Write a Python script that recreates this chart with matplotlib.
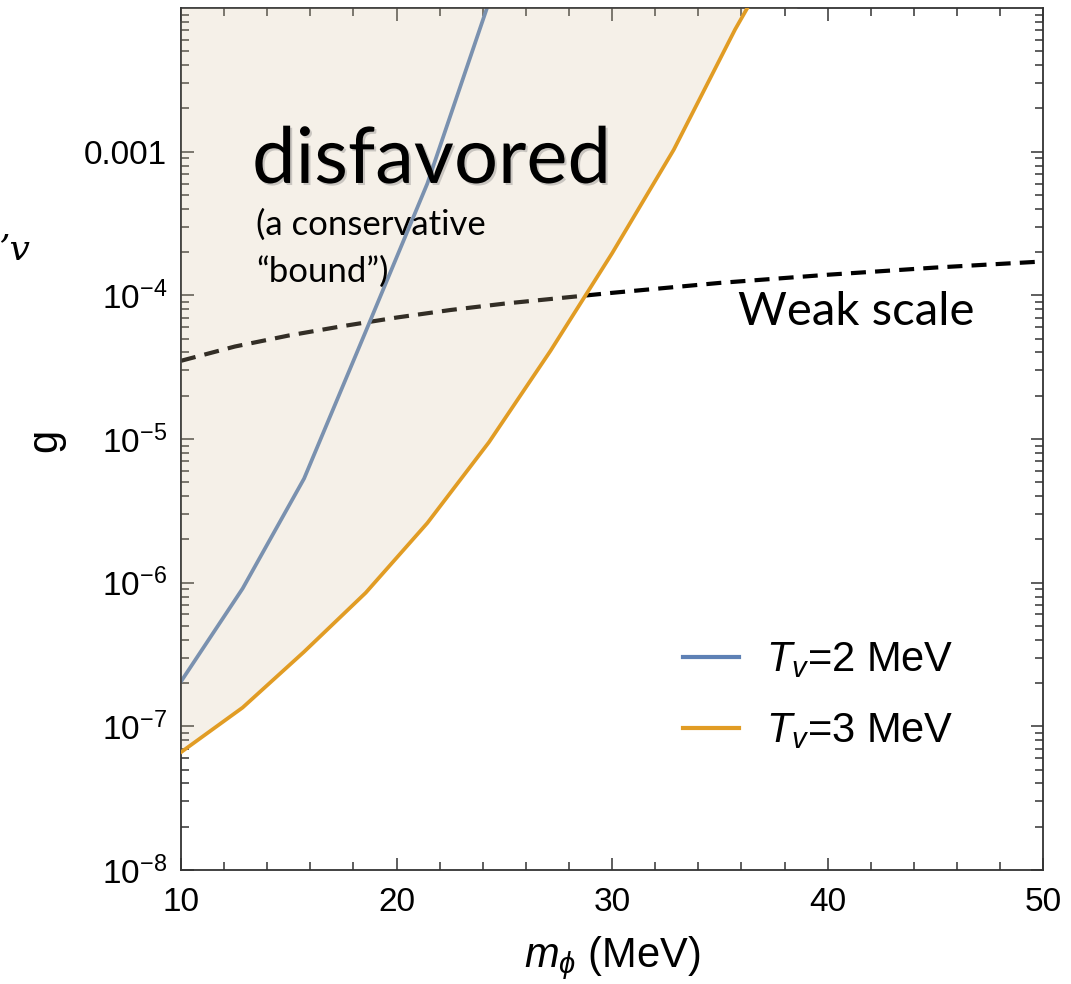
import numpy as np
import matplotlib
matplotlib.use("Agg")
import matplotlib.pyplot as plt
import matplotlib.patheffects as pe
from matplotlib.ticker import FixedLocator, FixedFormatter, NullFormatter, LogLocator

plt.rcParams['font.family'] = ['Liberation Sans', 'DejaVu Sans']
plt.rcParams['mathtext.fontset'] = 'custom'
plt.rcParams['mathtext.rm'] = 'Liberation Sans'
plt.rcParams['mathtext.it'] = 'Liberation Sans:italic'
plt.rcParams['mathtext.fallback'] = 'stix'

# ---- data ----
m_phi = [10.0, 12.86, 15.71, 18.57, 21.43, 24.29, 27.14, 30.0, 32.86, 35.71, 38.57]
g_T2 = [2.05e-7, 9.1e-7, 5.3e-6, 5.6e-5, 6.0e-4, 1.1e-2, 1.5e-1, 2.0, 20.0, 200.0, 2000.0]
g_T3 = [6.6e-8, 1.35e-7, 3.3e-7, 8.5e-7, 2.6e-6, 9.5e-6, 4.1e-5, 1.96e-4, 1.03e-3, 7.1e-3, 4.0e-2]

m_weak = [10, 12.5, 15, 17.5, 20, 22.5, 25, 30, 35, 40, 45, 50]
g_weak = [3.5e-5, 4.4e-5, 5.25e-5, 6.1e-5, 7.0e-5, 7.9e-5, 8.75e-5, 1.04e-4,
          1.22e-4, 1.39e-4, 1.56e-4, 1.72e-4]

labels = ["$T_{v}$=2 MeV", "$T_{v}$=3 MeV"]
x_ticks = [10, 20, 30, 40, 50]
y_ticks = [1e-8, 1e-7, 1e-6, 1e-5, 1e-4, 1e-3]
y_ticklabels = ["$10^{-8}$", "$10^{-7}$", "$10^{-6}$", "$10^{-5}$", "$10^{-4}$", "0.001"]

blue = '#5e81b5'
orange = '#e19c24'

fig = plt.figure(figsize=(10.71, 9.84), dpi=100)
ax = fig.add_axes([0.169, 0.1159, 0.805, 0.876])

ax.set_yscale('log')
ax.set_xlim(10, 50)
ax.set_ylim(1e-8, 1e-2)

# curves
ax.plot(m_weak, g_weak, color='black', lw=3, dashes=(3.6, 2.2), zorder=2)
ax.plot(m_phi, g_T2, color=blue, lw=2.7, label=labels[0], zorder=2)
# disfavored shading laid over the lines (translucent)
ax.fill_between(m_phi, g_T3, 1e-2, color=(214/255, 196/255, 160/255), alpha=0.24,
                lw=0, zorder=3)
ax.plot(m_phi, g_T3, color=orange, lw=2.7, label=labels[1], zorder=4)

# ticks
ax.xaxis.set_major_locator(FixedLocator(x_ticks))
ax.xaxis.set_minor_locator(FixedLocator(np.arange(10, 51, 2)))
ax.yaxis.set_major_locator(FixedLocator(y_ticks))
ax.yaxis.set_major_formatter(FixedFormatter(y_ticklabels))
ax.yaxis.set_minor_locator(LogLocator(base=10, subs=np.arange(2, 10), numticks=20))
ax.yaxis.set_minor_formatter(NullFormatter())
ax.tick_params(which='both', direction='in', top=True, right=True, labelsize=24,
               width=1.1, color='#333333')
ax.tick_params(which='major', length=9)
ax.tick_params(which='minor', length=5.5)
ax.tick_params(axis='x', pad=12)
ax.tick_params(axis='y', pad=10)
for s in ax.spines.values():
    s.set_linewidth(1.3)
    s.set_color('#333333')

ax.set_xlabel("$m_{\\phi}$ (MeV)", fontsize=30, labelpad=12)
fig.text(45 / 1071, 1 - 440 / 984, "g", rotation=90, ha='center', va='center', fontsize=30)
fig.text(-0.002, 1 - 250 / 984, "\u2019v", ha='left', va='center', fontsize=26,
         family='DejaVu Serif', style='italic')

# annotations
ax.text(0.0824, 0.797, "disfavored", transform=ax.transAxes, family='Lato',
        fontsize=56, va='baseline', ha='left', zorder=5,
        path_effects=[pe.withSimplePatchShadow(offset=(1.5, -1.5), shadow_rgbFace='#777777', alpha=0.35)])
ax.text(0.087, 0.7367, "(a conservative", transform=ax.transAxes, family='Lato',
        fontsize=25, va='baseline', ha='left', zorder=5)
ax.text(0.087, 0.682, "\u201cbound\u201d)", transform=ax.transAxes, family='Lato',
        fontsize=25, va='baseline', ha='left', zorder=5)
ax.text(0.646, 0.632, "Weak scale", transform=ax.transAxes, family='Lato',
        fontsize=34, va='baseline', ha='left', zorder=5)

handles = [ax.lines[1], ax.lines[2]]
leg = ax.legend(handles, labels, loc='center left', bbox_to_anchor=(0.5824, 0.202),
                frameon=False, fontsize=30, handlelength=1.35, handletextpad=0.65,
                labelspacing=0.75, borderpad=0, borderaxespad=0)
for h in leg.legend_handles:
    h.set_linewidth(3)

fig.savefig("out.png", dpi=100)
